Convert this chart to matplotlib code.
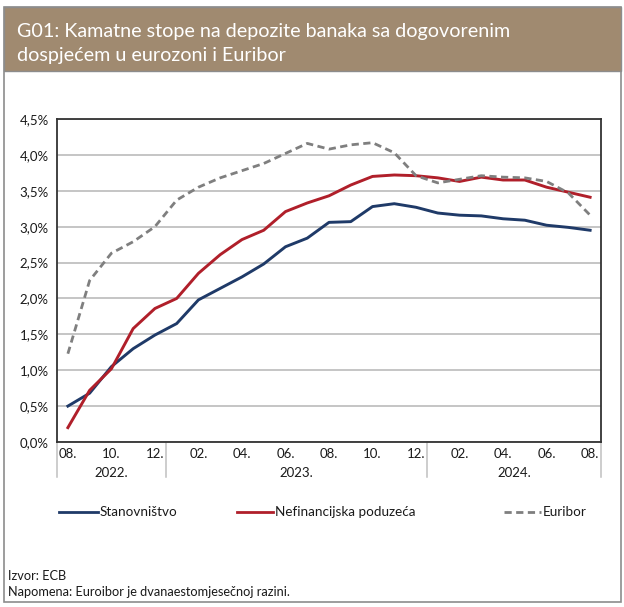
import numpy as np
import matplotlib.pyplot as plt
from matplotlib.patches import Rectangle
from matplotlib.lines import Line2D

plt.rcParams['font.family'] = ['Lato', 'DejaVu Sans']

months = ["08.", "09.", "10.", "11.", "12.", "01.", "02.", "03.", "04.", "05.", "06.", "07.",
          "08.", "09.", "10.", "11.", "12.", "01.", "02.", "03.", "04.", "05.", "06.", "07.", "08."]
years = ["2022.", "2023.", "2024."]

stanovnistvo = [0.50, 0.68, 1.05, 1.30, 1.49, 1.65, 1.98, 2.14, 2.30, 2.48, 2.72, 2.84, 3.06,
                3.07, 3.28, 3.32, 3.27, 3.19, 3.16, 3.15, 3.11, 3.09, 3.02, 2.99, 2.95]
nefinancijska = [0.20, 0.72, 1.02, 1.58, 1.86, 2.00, 2.35, 2.61, 2.82, 2.95, 3.21, 3.33, 3.43,
                 3.58, 3.70, 3.72, 3.71, 3.68, 3.63, 3.69, 3.65, 3.65, 3.55, 3.48, 3.41]
euribor = [1.23, 2.25, 2.63, 2.79, 3.00, 3.37, 3.55, 3.68, 3.78, 3.88, 4.02, 4.16, 4.08,
           4.14, 4.17, 4.03, 3.71, 3.61, 3.66, 3.71, 3.69, 3.68, 3.63, 3.47, 3.16]

W, H = 624, 607
fig = plt.figure(figsize=(W / 100, H / 100), dpi=100)

def fx(px):
    return px / W

def fy(py):
    return 1 - py / H

# frame and header
fig.patches.append(Rectangle((fx(4), fy(602)), fx(617), 595 / H, transform=fig.transFigure,
                             facecolor='none', edgecolor='#8c8c8c', lw=1.2, zorder=-1))
fig.patches.append(Rectangle((fx(4), fy(71)), fx(617), 64 / H, transform=fig.transFigure,
                             facecolor='#a08a70', edgecolor='#8c8c8c', lw=1.0, zorder=-1))
fig.text(fx(17), fy(31), "G01: Kamatne stope na depozite banaka sa dogovorenim",
         color='white', fontsize=14.2, va='center', ha='left')
fig.text(fx(17), fy(55), "dospjećem u eurozoni i Euribor",
         color='white', fontsize=14.2, va='center', ha='left')

ax = fig.add_axes([fx(57), fy(442), fx(601 - 57), (442 - 119) / H])
x = np.arange(len(months))

ax.plot(x, stanovnistvo, color='#1f3a68', lw=2.1, zorder=3)
ax.plot(x, nefinancijska, color='#b01f2a', lw=2.1, zorder=3)
ax.plot(x, euribor, color='#7f7f7f', lw=2.0, dashes=(2.6, 1.6), zorder=3)

ax.set_xlim(-0.5, len(months) - 0.5)
ax.set_ylim(0, 4.5)
ax.set_yticks(np.arange(0, 4.51, 0.5))
ax.set_yticklabels([f"{v:.1f}%".replace('.', ',') for v in np.arange(0, 4.51, 0.5)])
ax.set_xticks(x[::2])
ax.set_xticklabels(months[::2])
ax.tick_params(axis='both', length=0, labelsize=9.5, colors='#1a1a1a')
ax.tick_params(axis='y', pad=6)
ax.tick_params(axis='x', pad=4)
ax.grid(axis='y', color='#c0c0c0', lw=1.3)
ax.set_axisbelow(True)
for s in ax.spines.values():
    s.set_color('#333333')
    s.set_linewidth(1.3)

# year separators and labels
tr = ax.get_xaxis_transform()
for sx in [-0.5, 4.5, 16.5, 24.5]:
    ax.plot([sx, sx], [0, -0.108], color='#c0c0c0', lw=1.1, transform=tr, clip_on=False)
for yx, yl in zip([2, 10.5, 20.5], years):
    ax.text(yx, -0.096, yl, transform=tr, ha='center', va='center', fontsize=9.5, color='#1a1a1a')

# legend
leg = [(59, 98, '#1f3a68', None, "Stanovništvo"),
       (237, 273, '#b01f2a', None, "Nefinancijska poduzeća"),
       (504, 541, '#7f7f7f', (2.6, 1.6), "Euribor")]
for x0, x1, c, d, lab in leg:
    ln = Line2D([fx(x0), fx(x1)], [fy(512), fy(512)], transform=fig.transFigure, color=c, lw=2.0)
    if d:
        ln.set_dashes(d)
    fig.add_artist(ln)
    fig.text(fx(x1 + 2), fy(512), lab, fontsize=9.7, va='center', ha='left', color='#1a1a1a')

fig.text(fx(8), fy(576), "Izvor: ECB", fontsize=9.2, va='center', ha='left', color='#1a1a1a')
fig.text(fx(8), fy(592), "Napomena: Euroibor je dvanaestomjesečnoj razini.", fontsize=9.2,
         va='center', ha='left', color='#1a1a1a')

fig.savefig("out.png", dpi=100)
